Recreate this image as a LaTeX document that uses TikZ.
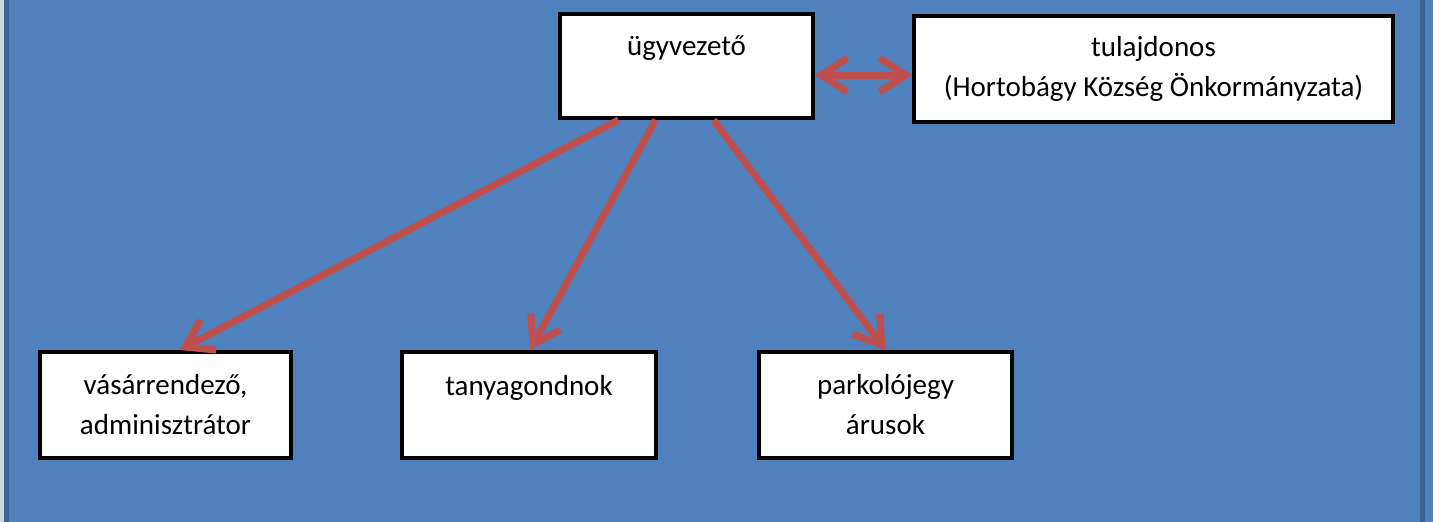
\documentclass[tikz,border=0pt]{standalone}
\usepackage{fontspec}
\setmainfont{Carlito}
\usetikzlibrary{arrows.meta}

\definecolor{bgblue}{HTML}{4F81BD}
\definecolor{edgeblue}{HTML}{3B6494}
\definecolor{edgelight}{HTML}{CDD5E0}
\definecolor{arrowred}{HTML}{C0504D}

\begin{document}
\begin{tikzpicture}[x=1pt,y=-1pt,
    box/.style={draw=black, line width=4pt, fill=white, inner sep=0pt,
        align=center, font=\fontsize{29}{40}\selectfont},
    link/.style={draw=arrowred, line width=7pt,
        -{Straight Barb[length=26pt,width=34pt]}}]
\useasboundingbox (0,0) rectangle (1433,522);
% slide background
\fill [bgblue] (0,0) rectangle (1433,522);
\fill [edgelight] (0,0) rectangle (4,522);
\fill [edgeblue] (4,0) rectangle (9,522);
\fill [edgeblue] (1420,0) rectangle (1425,522);
% top row
\node[box, minimum width=253, minimum height=104] (ceo) at (686.5,66) {ügyvezető\\\mbox{}};
\node[box, minimum width=479, minimum height=106] (owner) at (1153.5,69) {tulajdonos\\(Hortobágy Község Önkormányzata)};
% bottom row
\node[box, minimum width=251, minimum height=106] (admin) at (165.5,405) {vásárrendező,\\adminisztrátor};
\node[box, minimum width=254, minimum height=106] (caretaker) at (529,405) {tanyagondnok\\\mbox{}};
\node[box, minimum width=253, minimum height=106] (tickets) at (885.5,405) {parkolójegy\\árusok};
% arrows
\draw [link, {Straight Barb[length=26pt,width=34pt]}-{Straight Barb[length=26pt,width=34pt]}]
    ([yshift=-9pt]ceo.east) -- ([yshift=-6pt]owner.west);
\draw [link] ([xshift=-68pt]ceo.south) -- ([xshift=14pt]admin.north);
\draw [link] ([xshift=-31pt]ceo.south) -- ([xshift=1pt]caretaker.north);
\draw [link] ([xshift=27pt]ceo.south) -- (tickets.north);
\end{tikzpicture}
\end{document}
